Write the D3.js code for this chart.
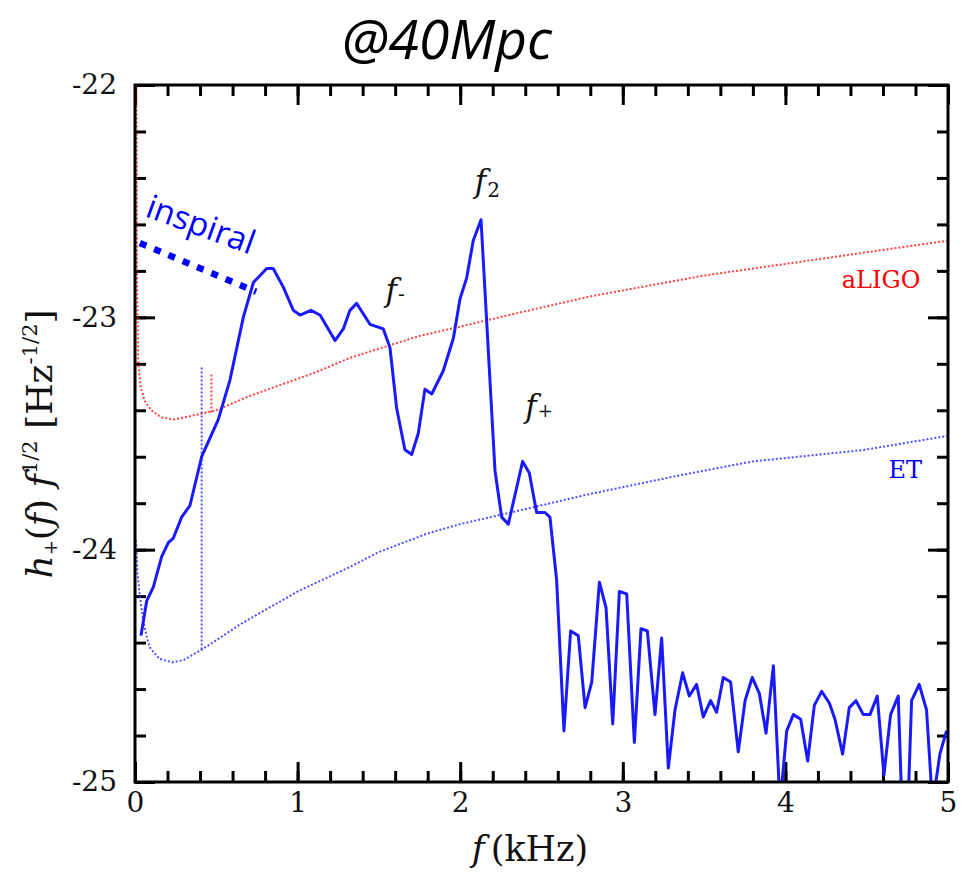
<!DOCTYPE html>
<html>
<head>
<meta charset="utf-8">
<script src="https://cdn.jsdelivr.net/npm/d3@7"></script>
<style>
body { margin: 0; background: #fff; }
svg text { font-family: "DejaVu Serif", serif; }
</style>
</head>
<body>
<div id="chart"></div>
<script>
// gravitational-wave spectrum, [f (kHz), log10 h f^1/2]
var signal = [
    [0.037,-24.37],[0.072,-24.22],[0.113,-24.16],[0.164,-24.03],[0.205,-23.97],[0.236,-23.95],
    [0.287,-23.86],[0.338,-23.81],[0.41,-23.60],[0.512,-23.44],[0.584,-23.27],[0.666,-23.00],
    [0.728,-22.85],[0.81,-22.79],[0.85,-22.79],[0.912,-22.87],[0.974,-22.97],[1.015,-22.99],
    [1.082,-22.97],[1.138,-22.99],[1.23,-23.10],[1.281,-23.05],[1.322,-22.97],[1.363,-22.94],
    [1.445,-23.03],[1.527,-23.05],[1.568,-23.13],[1.609,-23.39],[1.66,-23.57],[1.702,-23.59],
    [1.742,-23.50],[1.783,-23.31],[1.825,-23.33],[1.896,-23.23],[1.958,-23.09],[1.999,-22.92],
    [2.04,-22.83],[2.08,-22.67],[2.128,-22.58],[2.214,-23.66],[2.255,-23.86],[2.296,-23.89],
    [2.384,-23.62],[2.425,-23.67],[2.47,-23.84],[2.521,-23.84],[2.552,-23.86],[2.593,-24.13],
    [2.638,-24.78],[2.679,-24.35],[2.726,-24.37],[2.768,-24.68],[2.809,-24.57],[2.856,-24.14],
    [2.897,-24.25],[2.938,-24.75],[2.979,-24.18],[3.024,-24.19],[3.071,-24.83],[3.112,-24.34],
    [3.151,-24.35],[3.198,-24.71],[3.239,-24.38],[3.28,-24.94],[3.321,-24.69],[3.368,-24.53],
    [3.409,-24.63],[3.454,-24.58],[3.495,-24.72],[3.54,-24.65],[3.577,-24.70],[3.618,-24.55],
    [3.663,-24.57],[3.71,-24.87],[3.752,-24.65],[3.796,-24.55],[3.84,-24.62],[3.881,-24.79],
    [3.926,-24.50],[3.967,-25.10],[4.008,-24.78],[4.049,-24.71],[4.094,-24.73],[4.137,-24.91],
    [4.178,-24.67],[4.223,-24.61],[4.27,-24.66],[4.305,-24.73],[4.352,-24.88],[4.393,-24.68],
    [4.434,-24.65],[4.479,-24.71],[4.52,-24.71],[4.565,-24.63],[4.606,-24.97],[4.647,-24.71],
    [4.694,-24.63],[4.735,-25.50],[4.776,-24.65],[4.823,-24.58],[4.868,-24.69],[4.905,-25.10],
    [4.95,-24.88],[4.991,-24.78]
];

var aligo = [
    [0.009,-21.95],[0.012,-22.8],[0.02,-23.2],[0.035,-23.3],[0.06,-23.36],[0.1,-23.40],
    [0.16,-23.43],[0.24,-23.44],[0.34,-23.425],[0.5,-23.40],[0.7,-23.34],[0.95,-23.277],
    [1.1,-23.24],[1.32,-23.175],[1.5,-23.135],[1.75,-23.08],[2.0,-23.04],[2.3,-22.99],
    [2.8,-22.91],[3.5,-22.82],[4.0,-22.77],[4.5,-22.72],[5.0,-22.67]
];

var et = [
    [0.006,-23.96],[0.015,-24.1],[0.03,-24.2],[0.05,-24.30],[0.07,-24.37],[0.09,-24.42],
    [0.15,-24.47],[0.23,-24.485],[0.3,-24.475],[0.4,-24.435],[0.5,-24.39],[0.65,-24.32],
    [0.8,-24.26],[1.0,-24.18],[1.32,-24.075],[1.5,-24.01],[1.8,-23.93],[2.0,-23.89],
    [2.28,-23.845],[2.8,-23.76],[3.35,-23.68],[3.8,-23.62],[4.48,-23.571],[5.0,-23.51]
];

var aligoSpike = [[0.47,-23.41],[0.47,-23.24]];
var etSpike = [[0.41,-24.43],[0.41,-23.21]];
var inspiral = [[0.03,-22.68],[0.745,-22.89]];

var xMajor = [0, 1, 2, 3, 4, 5];
var yMajor = [-22, -23, -24, -25];

(function () {
    var W = 972, H = 875;
    var left = 135, right = 948, top = 85, bottom = 782;
    var blue = "#1a1aff", red = "#ff2020";

    var svg = d3.select("#chart").append("svg")
        .attr("width", W).attr("height", H);

    var x = d3.scaleLinear().domain([0, 5]).range([left, right]);
    var y = d3.scaleLinear().domain([-25, -22]).range([bottom, top]);

    var xMinor = d3.range(0, 5.001, 0.2);
    var yMinor = d3.range(-25, -21.999, 0.2);

    svg.append("clipPath").attr("id", "plot")
        .append("rect")
        .attr("x", left).attr("y", top)
        .attr("width", right - left).attr("height", bottom - top);

    // ticks, inward on all four sides
    function ticks(axis, tr, vals, len, labels) {
        var g = svg.append("g")
            .attr("transform", tr)
            .call(axis.tickValues(vals).tickSize(-len)
                .tickFormat(labels ? function (d) { return String(d); } : ""));
        g.attr("font-family", "DejaVu Serif").attr("font-size", 28);
        g.select(".domain").remove();
        g.selectAll("line").attr("stroke", "#000").attr("stroke-width", 3);
        g.selectAll("text").attr("fill", "#111");
        return g;
    }
    ticks(d3.axisBottom(x), "translate(0," + bottom + ")", xMinor, 11, false);
    ticks(d3.axisTop(x), "translate(0," + top + ")", xMinor, 11, false);
    ticks(d3.axisLeft(y), "translate(" + left + ",0)", yMinor, 11, false);
    ticks(d3.axisRight(y), "translate(" + right + ",0)", yMinor, 11, false);
    ticks(d3.axisBottom(x).tickPadding(10), "translate(0," + bottom + ")", xMajor, 20, true);
    ticks(d3.axisTop(x), "translate(0," + top + ")", xMajor, 20, false);
    ticks(d3.axisLeft(y).tickPadding(18), "translate(" + left + ",0)", yMajor, 20, true);
    ticks(d3.axisRight(y), "translate(" + right + ",0)", yMajor, 20, false);

    var line = d3.line()
        .x(function (d) { return x(d[0]); })
        .y(function (d) { return y(d[1]); });

    var curves = svg.append("g").attr("clip-path", "url(#plot)");

    [[aligo, red], [aligoSpike, red], [et, "#3030ff"], [etSpike, "#3030ff"]].forEach(function (c) {
        curves.append("path")
            .attr("d", line(c[0]))
            .attr("fill", "none")
            .attr("stroke", c[1])
            .attr("stroke-width", 2)
            .attr("stroke-dasharray", "2,2")
            .attr("opacity", 0.85);
    });

    curves.append("path")
        .attr("d", line(signal))
        .attr("fill", "none")
        .attr("stroke", blue)
        .attr("stroke-width", 3)
        .attr("stroke-linejoin", "round");

    curves.append("path")
        .attr("d", line(inspiral))
        .attr("fill", "none")
        .attr("stroke", "#0000ff")
        .attr("stroke-width", 6.5)
        .attr("stroke-dasharray", "7,8.5");

    // frame
    svg.append("rect")
        .attr("x", left).attr("y", top)
        .attr("width", right - left).attr("height", bottom - top)
        .attr("fill", "none").attr("stroke", "#000").attr("stroke-width", 3);

    // peak labels
    function peak(fx, hy, sub, subSize, subDy) {
        var t = svg.append("text")
            .attr("x", x(fx)).attr("y", y(hy))
            .attr("font-size", 31).attr("fill", "#111");
        t.append("tspan").attr("font-style", "italic").text("f");
        t.append("tspan").attr("font-size", subSize).attr("dy", subDy).attr("dx", 1).text(sub);
    }
    peak(2.09, -22.46, "2", 20, 5);
    peak(1.54, -22.93, "-", 20, 0);
    peak(2.4, -23.43, "+", 18, 0);

    svg.append("text")
        .attr("x", x(4.83)).attr("y", y(-22.875))
        .attr("text-anchor", "end").attr("font-size", 24)
        .attr("fill", "#ff0000").text("aLIGO");
    svg.append("text")
        .attr("x", x(4.84)).attr("y", y(-23.69))
        .attr("text-anchor", "end").attr("font-size", 24)
        .attr("fill", "#0000ff").text("ET");

    svg.append("text")
        .attr("transform", "translate(144,216) rotate(20)")
        .style("font-family", "'Open Sans', sans-serif")
        .attr("font-size", 33)
        .attr("fill", "#0000ff")
        .text("inspiral");

    // title
    svg.append("text")
        .attr("x", 447).attr("y", 59)
        .attr("text-anchor", "middle")
        .style("font-family", "'Open Sans', sans-serif")
        .attr("font-style", "italic").attr("font-size", 55)
        .attr("fill", "#000").text("@40Mpc");

    // x label
    var xl = svg.append("text")
        .attr("x", 530).attr("y", 861)
        .attr("text-anchor", "middle").attr("font-size", 35).attr("fill", "#111");
    xl.append("tspan").attr("font-style", "italic").text("f");
    xl.append("tspan").attr("dx", 6).text("(kHz)");

    // y label
    var yl = svg.append("text")
        .attr("transform", "translate(52,444) rotate(-90)")
        .attr("text-anchor", "middle").attr("font-size", 36).attr("fill", "#111");
    yl.append("tspan").attr("font-style", "italic").text("h");
    yl.append("tspan").attr("font-size", 18).attr("dy", 5).text("+");
    yl.append("tspan").attr("dy", -5).text("(");
    yl.append("tspan").attr("font-style", "italic").text("f");
    yl.append("tspan").text(") ");
    yl.append("tspan").attr("font-style", "italic").text("f");
    yl.append("tspan").attr("font-size", 21).attr("dy", -15).text("1/2");
    yl.append("tspan").attr("dy", 15).text(" [Hz");
    yl.append("tspan").attr("font-size", 21).attr("dy", -15).text("-1/2");
    yl.append("tspan").attr("dy", 15).text("]");
})();
</script>
</body>
</html>
